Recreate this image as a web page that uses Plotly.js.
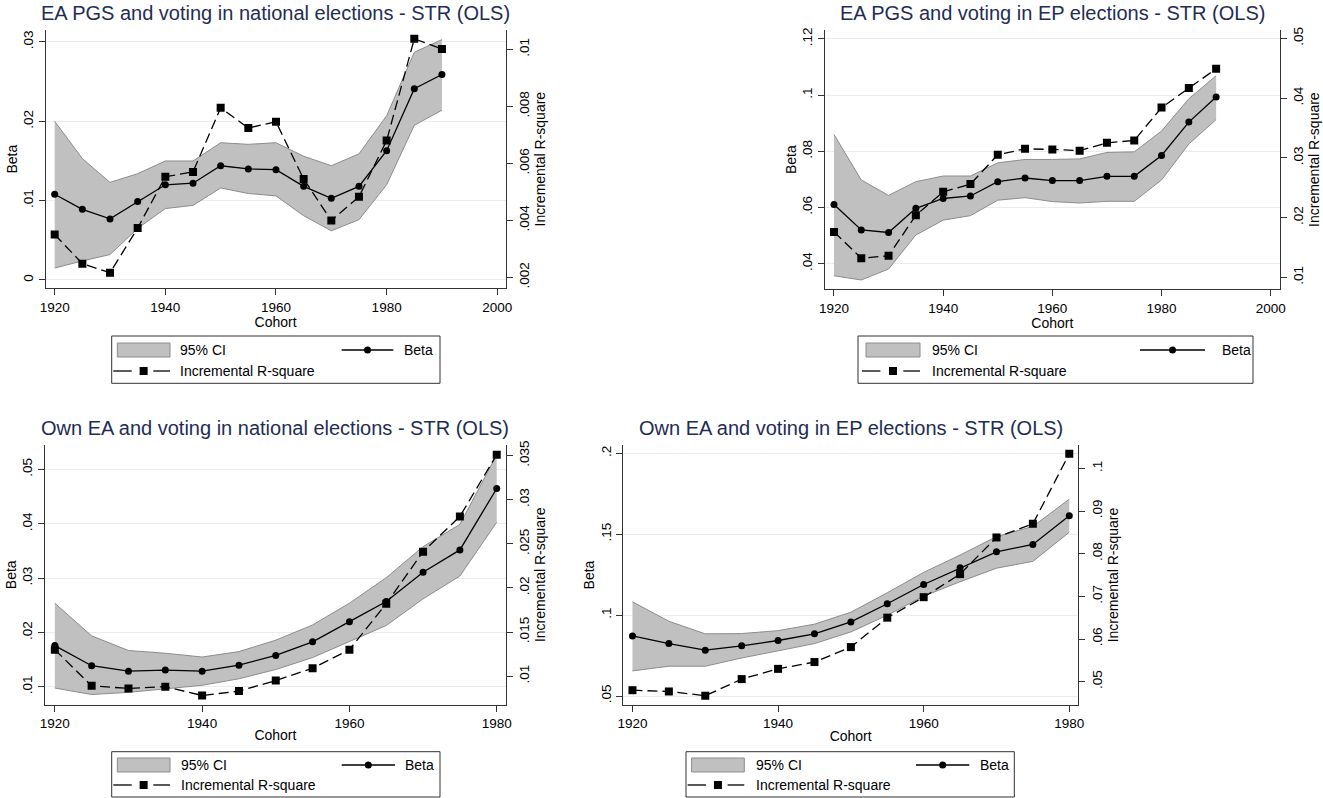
<!DOCTYPE html>
<html><head><meta charset="utf-8">
<script src="https://cdn.plot.ly/plotly-3.0.1.min.js"></script>
<style>html,body{margin:0;padding:0;background:#fff}#chart{width:1323px;height:798px}</style>
</head><body><div id="chart"></div>
<script>
// ---------------- DATA ----------------
const cohortsTop = [1920,1925,1930,1935,1940,1945,1950,1955,1960,1965,1970,1975,1980,1985,1990];
const cohortsBottom = [1920,1925,1930,1935,1940,1945,1950,1955,1960,1965,1970,1975,1980];

const titles = [
  "EA PGS and voting in national elections - STR (OLS)",
  "EA PGS and voting in EP elections - STR (OLS)",
  "Own EA and voting in national elections - STR (OLS)",
  "Own EA and voting in EP elections - STR (OLS)"
];
const xTitle = "Cohort";
const yLeftTitle = "Beta";
const yRightTitle = "Incremental R-square";
const legendLabels = ["95% CI", "Beta", "Incremental R-square"];

// Panel 1: EA PGS, national elections
const p1Beta = [0.0108,0.0089,0.0077,0.0099,0.0120,0.0122,0.0144,0.0140,0.0139,0.0118,0.0103,0.0118,0.0163,0.0241,0.0259];
const p1Hi   = [0.0200,0.0153,0.0123,0.0134,0.0150,0.0150,0.0173,0.0171,0.0173,0.0156,0.0144,0.0159,0.0207,0.0287,0.0303];
const p1Lo   = [0.0015,0.0024,0.0032,0.0065,0.0090,0.0094,0.0116,0.0109,0.0106,0.0081,0.0062,0.0076,0.0120,0.0195,0.0214];
const p1R2   = [0.00350,0.00248,0.00216,0.00373,0.00553,0.00570,0.00795,0.00724,0.00746,0.00545,0.00399,0.00483,0.00680,0.01037,0.01001];

// Panel 2: EA PGS, EP elections
const p2Beta = [0.0611,0.0520,0.0511,0.0597,0.0632,0.0641,0.0692,0.0705,0.0696,0.0696,0.0711,0.0711,0.0785,0.0904,0.0993];
const p2Hi   = [0.0860,0.0698,0.0643,0.0692,0.0712,0.0712,0.0759,0.0771,0.0771,0.0773,0.0796,0.0798,0.0872,0.0987,0.1069];
const p2Lo   = [0.0357,0.0342,0.0381,0.0502,0.0555,0.0571,0.0626,0.0635,0.0621,0.0616,0.0622,0.0622,0.0698,0.0826,0.0913];
const p2R2   = [0.0176,0.0132,0.0136,0.0204,0.0243,0.0256,0.0305,0.0315,0.0314,0.0312,0.0325,0.0329,0.0384,0.0417,0.0449];

// Panel 3: Own EA, national elections
const p3Beta = [0.0176,0.0139,0.0129,0.0131,0.0129,0.0140,0.0158,0.0183,0.0220,0.0257,0.0311,0.0352,0.0465];
const p3Hi   = [0.0254,0.0194,0.0167,0.0162,0.0155,0.0165,0.0186,0.0214,0.0254,0.0301,0.0358,0.0399,0.0527];
const p3Lo   = [0.0098,0.0086,0.0090,0.0097,0.0103,0.0115,0.0132,0.0154,0.0184,0.0213,0.0262,0.0304,0.0403];
const p3R2   = [0.0130,0.0089,0.0086,0.0088,0.0078,0.0083,0.0095,0.0109,0.0130,0.0182,0.0241,0.0281,0.0351];

// Panel 4: Own EA, EP elections
const p4Beta = [0.0871,0.0824,0.0783,0.0810,0.0843,0.0884,0.0958,0.1070,0.1189,0.1292,0.1391,0.1437,0.1614];
const p4Hi   = [0.1082,0.0962,0.0884,0.0886,0.0904,0.0944,0.1018,0.1138,0.1264,0.1371,0.1485,0.1548,0.1716];
const p4Lo   = [0.0655,0.0684,0.0684,0.0735,0.0779,0.0824,0.0896,0.0999,0.1117,0.1206,0.1290,0.1332,0.1512];
const p4R2   = [0.0480,0.0477,0.0467,0.0506,0.0530,0.0546,0.0581,0.0650,0.0698,0.0752,0.0838,0.0870,0.1034];

// Tick values / labels
const xTicksTop = [1920,1940,1960,1980,2000];
const xTicksBottom = [1920,1940,1960,1980];
const p1LeftTicks = [0,0.01,0.02,0.03];          const p1LeftLabels = ["0",".01",".02",".03"];
const p1RightTicks = [0.002,0.004,0.006,0.008,0.01]; const p1RightLabels = [".002",".004",".006",".008",".01"];
const p2LeftTicks = [0.04,0.06,0.08,0.1,0.12];    const p2LeftLabels = [".04",".06",".08",".1",".12"];
const p2RightTicks = [0.01,0.02,0.03,0.04,0.05];  const p2RightLabels = [".01",".02",".03",".04",".05"];
const p3LeftTicks = [0.01,0.02,0.03,0.04,0.05];   const p3LeftLabels = [".01",".02",".03",".04",".05"];
const p3RightTicks = [0.01,0.015,0.02,0.025,0.03,0.035]; const p3RightLabels = [".01",".015",".02",".025",".03",".035"];
const p4LeftTicks = [0.05,0.1,0.15,0.2];          const p4LeftLabels = [".05",".1",".15",".2"];
const p4RightTicks = [0.05,0.06,0.07,0.08,0.09,0.1]; const p4RightLabels = [".05",".06",".07",".08",".09",".1"];

// ---------------- LAYOUT / STYLE ----------------
const W = 1323, H = 798;
const px = v => v / W;
const py = v => 1 - v / H;
const FONT = "Liberation Sans, Arial, Helvetica, sans-serif";
const TITLE_COLOR = "#1f2d55";
const AXIS_COLOR = "#333333";
const GRID_COLOR = "#e6eef0";
const CI_FILL = "#c0c0c0";
const CI_LINE = "#8c8c8c";

const panels = [
  {title: titles[0], x: cohortsTop, beta: p1Beta, hi: p1Hi, lo: p1Lo, r2: p1R2,
   lt: p1LeftTicks, ltl: p1LeftLabels, rt: p1RightTicks, rtl: p1RightLabels, xt: xTicksTop,
   box: [45.5, 505.7, 30, 288.3], xr: [1918.34, 2001.52], yl: [-0.00105, 0.03151], yr: [0.001614, 0.01068],
   leg: {bx0: 111.7, bx1: 440, by0: 336, by1: 383.3, r1: 350, r2: 371, k0: 117.3, k1: 170, t1: 178.3, b0: 341.7, b1: 393.3, bt: 401.7}},
  {title: titles[1], x: cohortsTop, beta: p2Beta, hi: p2Hi, lo: p2Lo, r2: p2R2,
   lt: p2LeftTicks, ltl: p2LeftLabels, rt: p2RightTicks, rtl: p2RightLabels, xt: xTicksTop,
   box: [824.7, 1280, 30, 289.3], xr: [1918.3, 2001.7], yl: [0.03089, 0.12317], yr: [0.00799, 0.05139],
   leg: {bx0: 858, bx1: 1253, by0: 336, by1: 383.3, r1: 350, r2: 371, k0: 866, k1: 920, t1: 930, b0: 1140, b1: 1205, bt: 1220}},
  {title: titles[2], x: cohortsBottom, beta: p3Beta, hi: p3Hi, lo: p3Lo, r2: p3R2,
   lt: p3LeftTicks, ltl: p3LeftLabels, rt: p3RightTicks, rtl: p3RightLabels, xt: xTicksBottom,
   box: [44.8, 506, 445, 704.6], xr: [1918.64, 1981.26], yl: [0.00675, 0.0545], yr: [0.00677, 0.0362],
   leg: {bx0: 111.7, bx1: 440, by0: 751.7, by1: 797, r1: 765, r2: 785, k0: 117.3, k1: 170, t1: 179.3, b0: 341.7, b1: 395, bt: 403.3}},
  {title: titles[3], x: cohortsBottom, beta: p4Beta, hi: p4Hi, lo: p4Lo, r2: p4R2,
   lt: p4LeftTicks, ltl: p4LeftLabels, rt: p4RightTicks, rtl: p4RightLabels, xt: xTicksBottom,
   box: [623, 1078.3, 445, 705], xr: [1918.7, 1981.24], yl: [0.04444, 0.20513], yr: [0.04453, 0.10547],
   leg: {bx0: 686, bx1: 1014.3, by0: 751.7, by1: 797, r1: 765, r2: 785, k0: 691.6, k1: 744.3, t1: 753.6, b0: 916, b1: 969.3, bt: 977.6}}
];

const traces = [];
const layout = {
  width: W, height: H, autosize: false,
  margin: {l: 0, r: 0, t: 0, b: 0, pad: 0},
  paper_bgcolor: "#ffffff", plot_bgcolor: "#ffffff",
  showlegend: false,
  font: {family: FONT, color: "#000000", size: 13},
  shapes: [], annotations: []
};

const tickFont = {family: FONT, size: 13.5, color: "#000000"};
const axTitleFont = {family: FONT, size: 14, color: "#000000"};

panels.forEach((p, i) => {
  const xid = i === 0 ? "x" : "x" + (i + 1);
  const yl = "y" + (i === 0 ? "" : (2 * i + 1));
  const yr = "y" + (2 * i + 2);
  const xKey = "xaxis" + (i === 0 ? "" : (i + 1));
  const ylKey = "yaxis" + (i === 0 ? "" : (2 * i + 1));
  const yrKey = "yaxis" + (2 * i + 2);
  const [x0, x1, yt, yb] = p.box;

  // CI band
  traces.push({x: p.x, y: p.lo, xaxis: xid, yaxis: yl, type: "scatter", mode: "lines",
    line: {color: CI_LINE, width: 1}, hoverinfo: "skip", name: legendLabels[0] + " lower"});
  traces.push({x: p.x, y: p.hi, xaxis: xid, yaxis: yl, type: "scatter", mode: "lines", fill: "tonexty",
    fillcolor: CI_FILL, line: {color: CI_LINE, width: 1}, name: legendLabels[0]});
  // Beta
  traces.push({x: p.x, y: p.beta, xaxis: xid, yaxis: yl, type: "scatter", mode: "lines+markers",
    line: {color: "#000000", width: 1.3}, marker: {symbol: "circle", size: 7, color: "#000000"}, name: legendLabels[1]});
  // Incremental R-square
  traces.push({x: p.x, y: p.r2, xaxis: xid, yaxis: yr, type: "scatter", mode: "lines+markers",
    line: {color: "#000000", width: 1.3, dash: "10px,5px"}, marker: {symbol: "square", size: 8, color: "#000000"}, name: legendLabels[2]});

  layout[xKey] = {
    domain: [px(x0), px(x1)], anchor: yl, range: p.xr, autorange: false,
    tickmode: "array", tickvals: p.xt, ticktext: p.xt.map(String),
    ticks: "outside", ticklen: 6, tickwidth: 1, tickcolor: AXIS_COLOR,
    showline: true, linecolor: AXIS_COLOR, linewidth: 1, showgrid: false, zeroline: false,
    tickfont: tickFont, automargin: false,
    title: {text: xTitle, font: axTitleFont, standoff: 0}
  };
  layout[ylKey] = {
    domain: [py(yb), py(yt)], anchor: xid, range: p.yl, autorange: false,
    tickmode: "array", tickvals: p.lt, ticktext: p.ltl, tickangle: -90,
    ticks: "outside", ticklen: 6, tickwidth: 1, tickcolor: AXIS_COLOR,
    showline: true, linecolor: AXIS_COLOR, linewidth: 1,
    showgrid: true, gridcolor: GRID_COLOR, gridwidth: 1, zeroline: false,
    tickfont: tickFont, automargin: false,
    title: {text: yLeftTitle, font: axTitleFont, standoff: 0}
  };
  layout[yrKey] = {
    overlaying: yl, side: "right", anchor: xid, range: p.yr, autorange: false,
    tickmode: "array", tickvals: p.rt, ticktext: p.rtl, tickangle: -90,
    ticks: "outside", ticklen: 6, tickwidth: 1, tickcolor: AXIS_COLOR,
    showline: true, linecolor: AXIS_COLOR, linewidth: 1,
    showgrid: false, zeroline: false,
    tickfont: tickFont, automargin: false,
    title: {text: yRightTitle, font: axTitleFont, standoff: 0}
  };

  // Panel title
  layout.annotations.push({text: p.title, xref: "paper", yref: "paper",
    x: px((x0 + x1) / 2), y: py(i < 2 ? 13 : 428), xanchor: "center", yanchor: "middle",
    showarrow: false, font: {family: FONT, size: 20, color: TITLE_COLOR}});

  // Legend (box, keys, labels)
  const L = p.leg;
  const sh = layout.shapes;
  sh.push({type: "rect", xref: "paper", yref: "paper", x0: px(L.bx0), x1: px(L.bx1), y0: py(L.by1), y1: py(L.by0),
    line: {color: AXIS_COLOR, width: 1}, fillcolor: "rgba(0,0,0,0)"});
  sh.push({type: "rect", xref: "paper", yref: "paper", x0: px(L.k0), x1: px(L.k1), y0: py(L.r1 + 7), y1: py(L.r1 - 7),
    line: {color: CI_LINE, width: 1}, fillcolor: CI_FILL});
  sh.push({type: "line", xref: "paper", yref: "paper", x0: px(L.b0), x1: px(L.b1), y0: py(L.r1), y1: py(L.r1),
    line: {color: "#000000", width: 1.3}});
  const bc = (L.b0 + L.b1) / 2;
  sh.push({type: "circle", xref: "paper", yref: "paper", x0: px(bc - 3.5), x1: px(bc + 3.5), y0: py(L.r1 + 3.5), y1: py(L.r1 - 3.5),
    line: {color: "#000000", width: 0}, fillcolor: "#000000"});
  const kc = (L.k0 + L.k1) / 2;
  sh.push({type: "line", xref: "paper", yref: "paper", x0: px(L.k0 - 4), x1: px(L.k0 + 14.4), y0: py(L.r2), y1: py(L.r2),
    line: {color: "#000000", width: 1.3}});
  sh.push({type: "line", xref: "paper", yref: "paper", x0: px(L.k1 - 16.7), x1: px(L.k1), y0: py(L.r2), y1: py(L.r2),
    line: {color: "#000000", width: 1.3}});
  sh.push({type: "rect", xref: "paper", yref: "paper", x0: px(kc - 4), x1: px(kc + 4), y0: py(L.r2 + 4), y1: py(L.r2 - 4),
    line: {color: "#000000", width: 0}, fillcolor: "#000000"});
  const la = layout.annotations;
  la.push({text: legendLabels[0], xref: "paper", yref: "paper", x: px(L.t1), y: py(L.r1), xanchor: "left", yanchor: "middle",
    showarrow: false, font: {family: FONT, size: 14, color: "#000000"}});
  la.push({text: legendLabels[1], xref: "paper", yref: "paper", x: px(L.bt), y: py(L.r1), xanchor: "left", yanchor: "middle",
    showarrow: false, font: {family: FONT, size: 14, color: "#000000"}});
  la.push({text: legendLabels[2], xref: "paper", yref: "paper", x: px(L.t1), y: py(L.r2), xanchor: "left", yanchor: "middle",
    showarrow: false, font: {family: FONT, size: 14, color: "#000000"}});
});

Plotly.newPlot("chart", traces, layout, {staticPlot: true, displayModeBar: false});
</script>
</body></html>
